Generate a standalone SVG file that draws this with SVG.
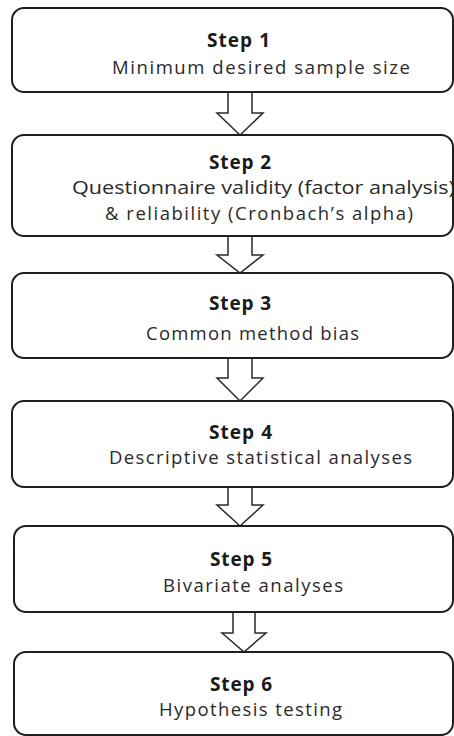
<svg xmlns="http://www.w3.org/2000/svg" width="454" height="736" viewBox="0 0 454 736">
  <style>
    .box { fill: #ffffff; stroke: #1e1e1e; stroke-width: 2; }
    .arrow { fill: #ffffff; stroke: #2a2a2a; stroke-width: 1.5; stroke-linejoin: miter; }
    .title { font-family: "Open Sans", "Noto Sans", sans-serif; font-size: 19px; font-weight: bold; fill: #1a1a1a; }
    .body { font-family: "Open Sans", "Noto Sans", sans-serif; font-size: 18.5px; fill: #2a2a2a; }
  </style>
  <rect width="454" height="736" fill="#ffffff"/>

  <!-- block arrows between the steps -->
  <g id="connectors">
    <polygon class="arrow" points="228,92 252,92 252,113 263,113 240,135 217,113 228,113"/>
    <polygon class="arrow" points="228,236 252,236 252,255 263,255 240,273 217,255 228,255"/>
    <polygon class="arrow" points="228,358 252,358 252,378 263,378 240,401 217,378 228,378"/>
    <polygon class="arrow" points="228,487 252,487 252,505 263,505 240,526 217,505 228,505"/>
    <polygon class="arrow" points="233,612 255,612 255,633 266,633 244,652 222,633 233,633"/>
  </g>

  <g id="step1">
    <rect class="box" x="12" y="8" width="441" height="84" rx="12"/>
    <text class="title" x="207" y="47" textLength="63" lengthAdjust="spacing">Step 1</text>
    <text class="body" x="112" y="74" textLength="298" lengthAdjust="spacing">Minimum desired sample size</text>
  </g>

  <g id="step2">
    <rect class="box" x="12" y="135" width="441" height="101" rx="12"/>
    <text class="title" x="209" y="169" textLength="62" lengthAdjust="spacing">Step 2</text>
    <text class="body" x="72" y="194" textLength="383" lengthAdjust="spacingAndGlyphs">Questionnaire validity (factor analysis)</text>
    <text class="body" x="105" y="220" textLength="308" lengthAdjust="spacing">&amp; reliability (Cronbach’s alpha)</text>
  </g>

  <g id="step3">
    <rect class="box" x="12" y="273" width="441" height="85" rx="12"/>
    <text class="title" x="209" y="310" textLength="62" lengthAdjust="spacing">Step 3</text>
    <text class="body" x="146" y="340" textLength="213" lengthAdjust="spacing">Common method bias</text>
  </g>

  <g id="step4">
    <rect class="box" x="12" y="401" width="441" height="86" rx="12"/>
    <text class="title" x="209" y="439" textLength="63" lengthAdjust="spacing">Step 4</text>
    <text class="body" x="109" y="464" textLength="303" lengthAdjust="spacing">Descriptive statistical analyses</text>
  </g>

  <g id="step5">
    <rect class="box" x="14" y="526" width="439" height="86" rx="12"/>
    <text class="title" x="210" y="566" textLength="62" lengthAdjust="spacing">Step 5</text>
    <text class="body" x="163" y="592" textLength="180" lengthAdjust="spacing">Bivariate analyses</text>
  </g>

  <g id="step6">
    <rect class="box" x="14" y="652" width="439" height="83" rx="12"/>
    <text class="title" x="210" y="691" textLength="62" lengthAdjust="spacing">Step 6</text>
    <text class="body" x="159" y="716" textLength="183" lengthAdjust="spacing">Hypothesis testing</text>
  </g>
</svg>
